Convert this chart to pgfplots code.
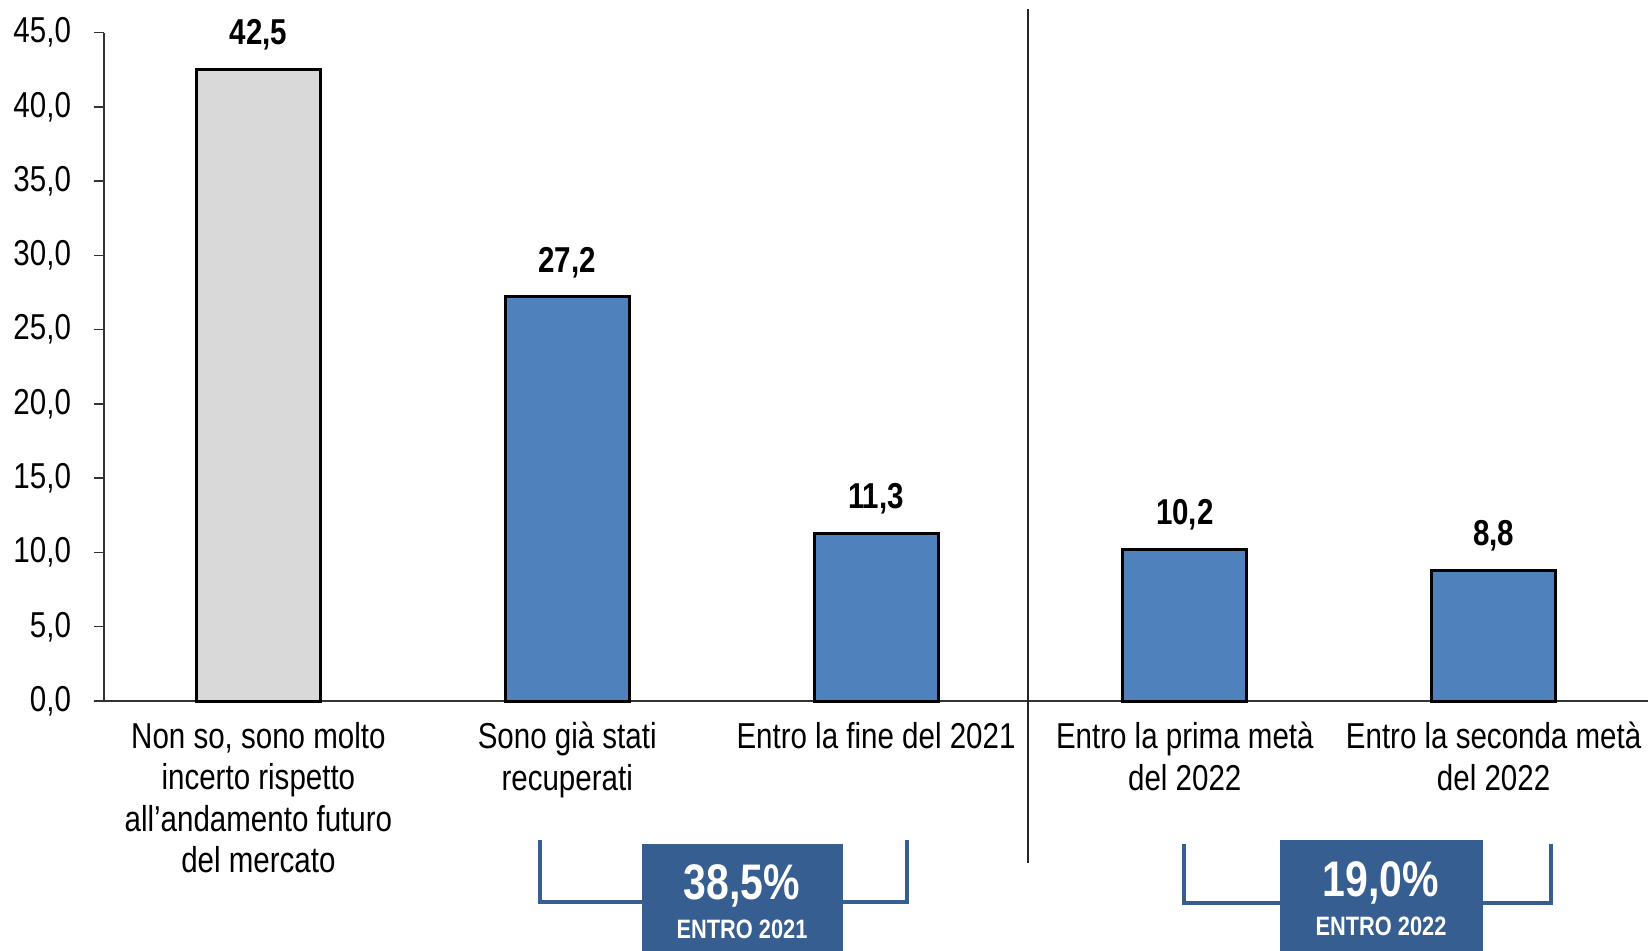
\documentclass[border=0pt]{standalone}
\usepackage{pgfplots}
\pgfplotsset{compat=1.18}
\usepackage{fontspec}
\setmainfont{Liberation Sans}[FakeStretch=0.82]
\definecolor{barblue}{HTML}{4F81BD}
\definecolor{bargrey}{HTML}{D9D9D9}
\definecolor{boxblue}{HTML}{365E91}

\begin{document}
\begin{tikzpicture}
\begin{axis}[
    at={(52pt,-350.5pt)}, anchor=south west,
    scale only axis,
    width=772pt, height=334.25pt,
    ybar, bar width=62pt, bar shift=0pt,
    xmin=-0.5, xmax=4.5, ymin=0, ymax=45,
    axis lines*=left,
    axis line style={black!80, line width=0.75pt},
    tick style={black!80, line width=0.75pt},
    tick align=outside,
    ytick={0,5,...,45},
    major tick length=5pt,
    xtick={0,1,2,3,4},
    x tick style={draw=none},
    minor xtick={-0.5,0.5,1.5,2.5,3.5,4.5},
    minor tick length=5pt,
    xticklabels={{Non so, sono molto\\incerto rispetto\\all’andamento futuro\\del mercato},
                 {Sono già stati\\recuperati},
                 {Entro la fine del 2021},
                 {Entro la prima metà\\del 2022},
                 {Entro la seconda metà\\del 2022}},
    xticklabel style={align=center, font=\fontsize{18}{20.8}\selectfont, yshift=-2pt},
    yticklabel style={font=\fontsize{18}{20}\selectfont, xshift=-8pt},
    /pgf/number format/.cd, use comma, fixed, fixed zerofill, precision=1, assume math mode=true,
    /pgfplots/.cd,
    nodes near coords,
    every node near coord/.append style={font=\bfseries\fontsize{18}{20}\selectfont, anchor=south, yshift=5.5pt},
    clip=false,
]
\addplot[fill=bargrey, draw=black, line width=1.5pt] coordinates {(0,42.5)};
\addplot[fill=barblue, draw=black, line width=1.5pt] coordinates {(1,27.2) (2,11.3) (3,10.2) (4,8.8)};
\end{axis}
\begin{scope}[x=0.5pt, y=-0.5pt]
  % separator between 2021 and 2022
  \draw[black!85, line width=1pt] (1028,9) -- (1028,863);
  % bracket and box: entro 2021
  \draw[boxblue, line width=2pt] (540,840) -- (540,902) -- (907,902) -- (907,840);
  \fill[boxblue] (642,844) rectangle (843,990);
  \node[white, font=\bfseries\fontsize{25}{25}\selectfont] at (742,886) {38,5\%};
  \node[white, font=\bfseries\fontsize{13.3}{14}\selectfont] at (742,929) {ENTRO 2021};
  % bracket and box: entro 2022
  \draw[boxblue, line width=2pt] (1184,844) -- (1184,903) -- (1551,903) -- (1551,844);
  \fill[boxblue] (1280,840) rectangle (1483,990);
  \node[white, font=\bfseries\fontsize{25}{25}\selectfont] at (1381,883) {19,0\%};
  \node[white, font=\bfseries\fontsize{13.3}{14}\selectfont] at (1381,926) {ENTRO 2022};
  \pgfresetboundingbox
  \useasboundingbox (0,0) rectangle (1650,950);
\end{scope}
\end{tikzpicture}
\end{document}
